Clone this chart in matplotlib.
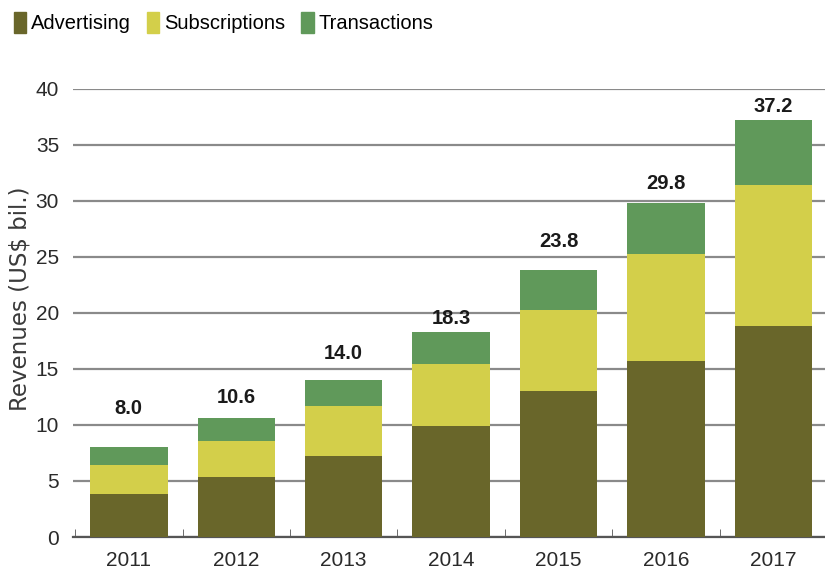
import matplotlib
matplotlib.use('Agg')
import matplotlib.pyplot as plt
from matplotlib.patches import Patch
import numpy as np

years = ['2011', '2012', '2013', '2014', '2015', '2016', '2017']
advertising = [3.8, 5.4, 7.2, 9.9, 13.0, 15.7, 18.8]
subscriptions = [2.6, 3.2, 4.5, 5.5, 7.3, 9.6, 12.6]
transactions = [1.6, 2.0, 2.3, 2.9, 3.5, 4.5, 5.8]
totals = [8.0, 10.6, 14.0, 18.3, 23.8, 29.8, 37.2]

# gap between bar top and its total label, in points (uneven in the original)
label_gap = [21, 8, 12, 3, 14, 7, 3]

narrow = ['Liberation Sans', 'DejaVu Sans']
c_adv = '#69662a'
c_sub = '#d3cf4a'
c_tra = '#60995a'

fig = plt.figure(figsize=(8.25, 5.82), dpi=100)
ax = fig.add_axes([0.0885, 0.0773, 0.9115, 0.77])

x = np.arange(len(years))
adv = np.array(advertising)
sub = np.array(subscriptions)
tra = np.array(transactions)
w = 0.72
ax.bar(x, adv, w, color=c_adv, zorder=3)
ax.bar(x, sub, w, bottom=adv, color=c_sub, zorder=3)
ax.bar(x, tra, w, bottom=adv + sub, color=c_tra, zorder=3)

for i, t in enumerate(totals):
    ax.annotate('%.1f' % t, (x[i], t), xytext=(0, label_gap[i]),
                textcoords='offset points', ha='center', va='bottom',
                fontsize=14.5, fontweight='bold', family=narrow, color='#1a1a1a')

ax.set_xlim(-0.52, 6.48)
ax.set_ylim(0, 40)
ax.set_yticks(range(0, 41, 5))
ax.yaxis.grid(True, color='#8a8a8a', linewidth=1.6, zorder=0)
ax.set_axisbelow(True)

ax.set_xticks(x)
ax.set_xticklabels(years)
ax.set_xticks(np.arange(-0.5, 6.5, 1.0), minor=True)
ax.tick_params(axis='x', which='major', length=0, pad=10)
ax.tick_params(axis='x', which='minor', direction='in', length=6, color='#555555')
ax.tick_params(axis='y', length=0, pad=10)
for lab in ax.get_xticklabels() + ax.get_yticklabels():
    lab.set_family(narrow)
    lab.set_fontsize(15)
    lab.set_color('#2a2a2a')

for s in ['top', 'right', 'left']:
    ax.spines[s].set_visible(False)
ax.spines['bottom'].set_color('#555555')
ax.spines['bottom'].set_linewidth(1.6)

fig.text(20 / 825, 1 - 299 / 582, 'Revenues (US$ bil.)', rotation=90,
         ha='center', va='center', fontsize=16.5, color='#3a3a3a')

handles = [Patch(color=c_adv, label='Advertising'),
           Patch(color=c_sub, label='Subscriptions'),
           Patch(color=c_tra, label='Transactions')]
fig.legend(handles=handles, loc='upper left', bbox_to_anchor=(-0.005, 1.01), ncol=3,
           frameon=False, prop={'family': narrow, 'size': 14.5},
           handlelength=0.6, handleheight=1.2, handletextpad=0.25, columnspacing=0.8)

fig.savefig('out.png', dpi=100)
